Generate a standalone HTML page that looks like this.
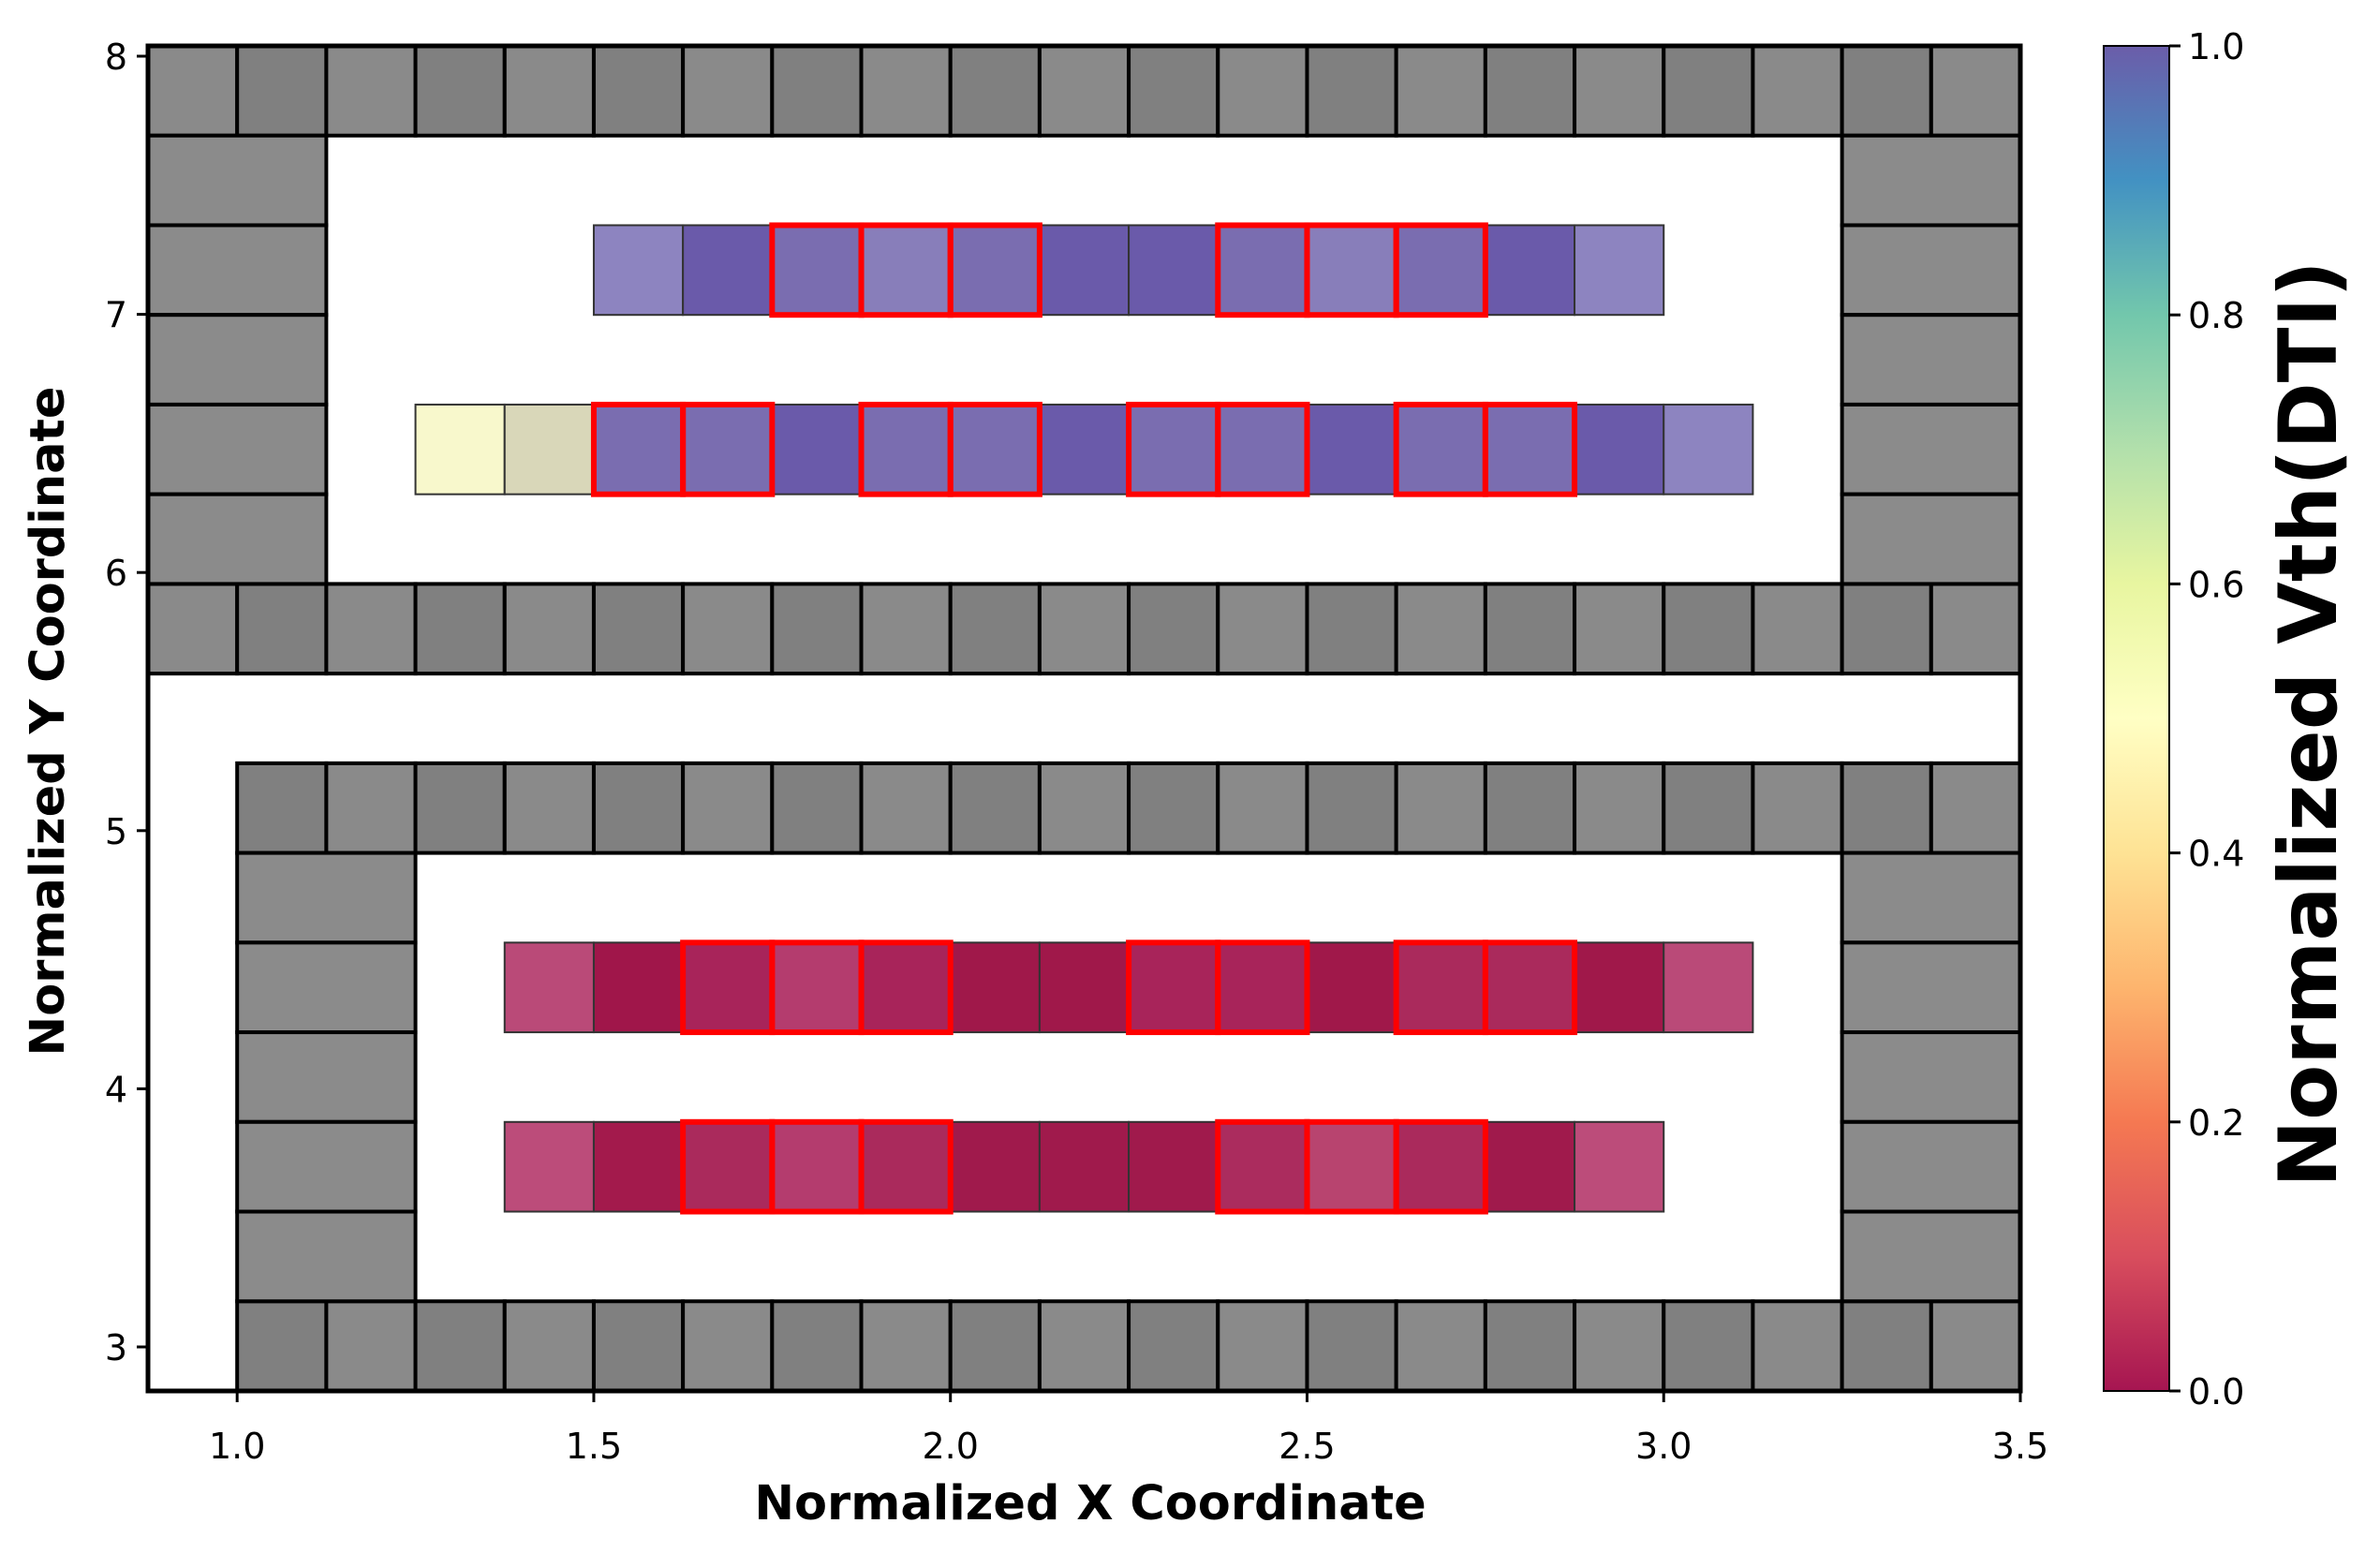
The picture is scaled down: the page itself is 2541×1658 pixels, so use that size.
<!DOCTYPE html>
<html><head><meta charset="utf-8"><style>
html,body{margin:0;padding:0;background:#fff;}
svg{display:block;}
text{font-family:"DejaVu Sans","Liberation Sans",sans-serif;}
</style></head><body>
<svg id="s" width="2541" height="1658" viewBox="0 0 2541 1658" xmlns="http://www.w3.org/2000/svg">
<defs>
<linearGradient id="cb" x1="0" y1="1" x2="0" y2="0">
<stop offset="0" stop-color="#9e0142"/><stop offset="0.1" stop-color="#d53e4f"/>
<stop offset="0.2" stop-color="#f46d43"/><stop offset="0.3" stop-color="#fdae61"/>
<stop offset="0.4" stop-color="#fee08b"/><stop offset="0.5" stop-color="#ffffbf"/>
<stop offset="0.6" stop-color="#e6f598"/><stop offset="0.7" stop-color="#abdda4"/>
<stop offset="0.8" stop-color="#66c2a5"/><stop offset="0.9" stop-color="#3288bd"/>
<stop offset="1" stop-color="#5e4fa2"/>
</linearGradient>
</defs>
<g id="cells"></g>
<g id="red"></g>
<rect x="158" y="49" width="1999" height="1436" fill="none" stroke="#000" stroke-width="5"/>
<g id="ticks" stroke="#000" stroke-width="3"></g>
<g id="labels" font-size="38" fill="#000"></g>
<text x="1164" y="1622" font-size="51" font-weight="bold" text-anchor="middle">Normalized X Coordinate</text>
<text transform="translate(68,770) rotate(-90)" font-size="51" font-weight="bold" text-anchor="middle">Normalized Y Coordinate</text>
<rect x="2246" y="49" width="70" height="1436" fill="url(#cb)" opacity="0.92"/>
<rect x="2246" y="49" width="70" height="1436" fill="none" stroke="#000" stroke-width="2"/>
<g id="cbt" stroke="#000" stroke-width="3"></g>
<text transform="translate(2494,773) rotate(-90)" font-size="86" font-weight="bold" text-anchor="middle">Normalized Vth(DTI)</text>
</svg>
<script>
var NS="http://www.w3.org/2000/svg";
var X0=158,CW=1999/21,Y0=49,RH=1436/15;
function el(p,t,a,txt){var e=document.createElementNS(NS,t);for(var k in a)e.setAttribute(k,a[k]);if(txt!=null)e.textContent=txt;document.getElementById(p).appendChild(e);return e;}
function cell(c,r,span,fill,sw,st){el("cells","rect",{x:X0+c*CW,y:Y0+r*RH,width:CW*span,height:RH,fill:fill,stroke:st||"#000","stroke-width":sw||4});}
function gray(c){return c%2==0?"#8a8a8a":"#808080";}
var r,c;
for(c=0;c<21;c++){cell(c,0,1,gray(c));cell(c,6,1,gray(c));}
for(r=1;r<=5;r++){cell(0,r,2,"#8b8b8b");cell(19,r,2,"#8b8b8b");}
for(c=1;c<21;c++){cell(c,8,1,gray(c));cell(c,14,1,gray(c));}
for(r=9;r<=13;r++){cell(1,r,2,"#8b8b8b");cell(19,r,2,"#8b8b8b");}
var L="#8d84c0",D="#6a5aaa",M="#7a6db0",P="#887eba";
var rows=[
 [2,5,[L,D,M,P,M,D,D,M,P,M,D,L],[7,8,9,12,13,14]],
 [4,3,["#f8f8cc","#d9d7b9",M,M,D,M,M,D,M,M,D,M,M,D,L],[5,6,8,9,11,12,14,15]],
 [10,4,["#ba4a78","#a0164a","#a8245a","#b43c6e","#a8245a","#a0184a","#a0184a","#a8245a","#a8245a","#a0184a","#aa2a5c","#aa2a5c","#a0184a","#ba4a78"],[6,7,8,11,12,14,15]],
 [12,4,["#bc4c7a","#a31a4c","#aa2a5c","#b43c6e","#aa2a5c","#a01a4c","#a01a4c","#a01a4c","#ab2c5e","#b8446f","#aa2a5c","#a01a4c","#bc4c7a"],[6,7,8,12,13,14]]
];
rows.forEach(function(d){
 d[2].forEach(function(f,i){cell(d[1]+i,d[0],1,f,2,"#333");});
 d[3].forEach(function(cc){el("red","rect",{x:X0+cc*CW,y:Y0+d[0]*RH,width:CW,height:RH,fill:"none",stroke:"#f00","stroke-width":6});});
});
var ux=(2157-158)/(3.5-0.875);
[1.0,1.5,2.0,2.5,3.0,3.5].forEach(function(v){var x=158+(v-0.875)*ux;
 el("ticks","line",{x1:x,y1:1485,x2:x,y2:1497});
 el("labels","text",{x:x,y:1557,"text-anchor":"middle"},v.toFixed(1));});
[3,4,5,6,7,8].forEach(function(v){var y=60+(8-v)*(1438-60)/5;
 el("ticks","line",{x1:146,y1:y,x2:158,y2:y});
 el("labels","text",{x:136,y:y+14,"text-anchor":"end"},String(v));});
[0,0.2,0.4,0.6,0.8,1.0].forEach(function(v){var y=1485-v*1436;
 el("cbt","line",{x1:2316,y1:y,x2:2328,y2:y});
 el("labels","text",{x:2336,y:y+14},v.toFixed(1));});
</script>
</body></html>
